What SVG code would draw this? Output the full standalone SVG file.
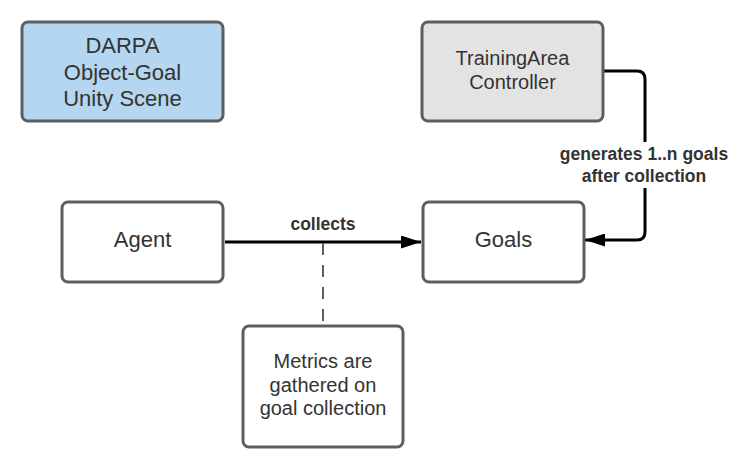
<svg xmlns="http://www.w3.org/2000/svg" width="752" height="471" viewBox="0 0 752 471">
<style>
.box{stroke:#5e5e5e;stroke-width:3;}
.t{font-family:"Liberation Sans",Arial,sans-serif;font-size:22px;fill:#333;text-anchor:middle;}
.s{font-size:20px;}
.lbl{font-family:"Liberation Sans",Arial,sans-serif;font-size:17.5px;font-weight:bold;fill:#333;text-anchor:middle;}
.conn{fill:none;stroke:#000;stroke-width:3;}
</style>
<defs>
<marker id="ah" viewBox="0 0 20 13" refX="20" refY="6.5" markerWidth="20" markerHeight="13" markerUnits="userSpaceOnUse" orient="auto">
<path d="M0,0 L20,6.5 L0,13 Z" fill="#000"/>
</marker>
</defs>
<rect width="752" height="471" fill="#fff"/>
<g id="connectors">
<path class="conn" d="M225,242 H421" marker-end="url(#ah)"/>
<path class="conn" d="M604,71 H637 Q645,71 645,79 V232 Q645,240 637,240 H585" marker-end="url(#ah)"/>
<path d="M323,243 V325" fill="none" stroke="#5e5e5e" stroke-width="2" stroke-dasharray="12,10"/>
<rect x="554" y="142" width="180" height="46" fill="#fff"/>
<text class="lbl" x="644" y="160">generates 1..n goals</text>
<text class="lbl" x="644" y="182">after collection</text>
<text class="lbl" x="323" y="230">collects</text>
</g>
<g id="darpa">
<rect class="box" x="22" y="22" width="201" height="99" rx="6" fill="#b4d6f0"/>
<text class="t" x="122.5" y="53">DARPA</text>
<text class="t" x="122.5" y="79.5">Object-Goal</text>
<text class="t" x="122.5" y="106">Unity Scene</text>
</g>
<g id="trainingarea">
<rect class="box" x="422" y="22" width="181" height="99" rx="6" fill="#e3e3e3"/>
<text class="t s" x="512.5" y="65">TrainingArea</text>
<text class="t s" x="512.5" y="89">Controller</text>
</g>
<g id="agent">
<rect class="box" x="62" y="202" width="161" height="80" rx="6" fill="#fff"/>
<text class="t" x="142.5" y="247">Agent</text>
</g>
<g id="goals">
<rect class="box" x="423" y="202" width="161" height="80" rx="6" fill="#fff"/>
<text class="t" x="503.5" y="247">Goals</text>
</g>
<g id="metrics">
<rect class="box" x="243" y="326" width="160" height="121" rx="6" fill="#fff"/>
<text class="t s" x="323" y="368">Metrics are</text>
<text class="t s" x="323" y="392">gathered on</text>
<text class="t s" x="323" y="415">goal collection</text>
</g>
</svg>
